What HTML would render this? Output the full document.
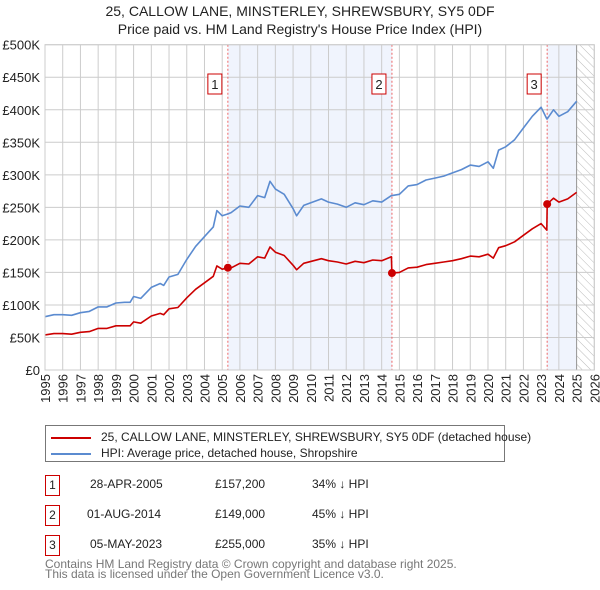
<!DOCTYPE html>
<html><head><meta charset="utf-8">
<style>
body{margin:0;background:#fff;font-family:"Liberation Sans","DejaVu Sans",sans-serif;}
#wrap{position:relative;width:600px;height:590px;overflow:hidden;}
svg{position:absolute;left:0;top:0;}
.c{white-space:nowrap;}
</style></head>
<body><div id="wrap">
<svg id="chart" width="600" height="590" font-family="Liberation Sans, DejaVu Sans, sans-serif"></svg>
</div>
<script>
const years = [1995,1995.5,1996,1996.5,1997,1997.5,1998,1998.5,1999,1999.5,1999.8,2000,2000.4,2001,2001.5,2001.7,2002,2002.5,2003,2003.5,2004,2004.5,2004.7,2005,2005.33,2005.5,2006,2006.5,2007,2007.4,2007.7,2008,2008.5,2009,2009.2,2009.6,2010.6,2011,2011.5,2012,2012.5,2013,2013.5,2014,2014.55,2014.58,2015,2015.5,2016,2016.5,2017,2017.5,2018,2018.5,2019,2019.5,2020,2020.3,2020.6,2021,2021.5,2022,2022.5,2023,2023.32,2023.34,2023.7,2024,2024.5,2025];
const hpiValues = [82,85,85,84,88,90,97,97,103,104,104,113,110,127,133,130,143,147,170,190,205,220,245,237,240,242,252,250,268,265,290,278,270,248,237,253,263,258,255,250,257,254,260,258,268,268,270,283,285,292,295,298,303,308,315,313,320,310,338,343,354,372,390,404,386,386,400,390,397,413];
const propertyValues = [54,56,56,55,58,59,64,64,68,68,68,74,72,83,87,85,94,96,111,124,134,144,160,155,157,157,164,163,174,172,189,181,176,161,154,164,171,168,166,163,167,165,169,168,174,149,150,157,158,162,164,166,168,171,175,174,178,172,188,191,197,207,217,225,215,255,264,258,263,273];
const saleYears = [2005.32,2014.58,2023.34];
const saleValues = [157.2,149,255];
const saleLabels = ["1","2","3"];
const yTicks = [0,50,100,150,200,250,300,350,400,450,500];
const yTickLabels = ["£0","£50K","£100K","£150K","£200K","£250K","£300K","£350K","£400K","£450K","£500K"];
const xTicks = [1995,1996,1997,1998,1999,2000,2001,2002,2003,2004,2005,2006,2007,2008,2009,2010,2011,2012,2013,2014,2015,2016,2017,2018,2019,2020,2021,2022,2023,2024,2025,2026];

const L=45,R=594.3,T=44.7,B=370;
const xs=y=>L+(y-1995)/(2026-1995)*(R-L);
const ys=v=>B-v/500*(B-T);
const NS="http://www.w3.org/2000/svg";
const svg=document.getElementById('chart');
function mk(tag,attrs,parent){const e=document.createElementNS(NS,tag);for(const k in attrs)e.setAttribute(k,attrs[k]);(parent||svg).appendChild(e);return e;}

const defs=mk('defs',{});
const pat=mk('pattern',{id:'hatch',width:6,height:6,patternUnits:'userSpaceOnUse',patternTransform:'rotate(-45)'},defs);
mk('line',{x1:0,y1:0,x2:0,y2:6,stroke:'#bbb','stroke-width':1},pat);

let s=mk('rect',{x:xs(saleYears[0]),y:T,width:xs(saleYears[1])-xs(saleYears[0]),height:B-T,fill:'#f0f4fd'});


s=mk('rect',{x:xs(saleYears[2]),y:T,width:xs(2025)-xs(saleYears[2]),height:B-T,fill:'#f0f4fd'});


s=mk('rect',{x:xs(2025),y:T,width:R-xs(2025),height:B-T,fill:'url(#hatch)'});



yTicks.forEach((v,i)=>{
  const g=mk('line',{x1:L,x2:R,y1:ys(v),y2:ys(v),stroke:'#ccc','stroke-width':1});
  
  
  const t=mk('text',{x:L-5,y:ys(v)+5,'text-anchor':'end','font-size':13,fill:'#222'});
  t.textContent=yTickLabels[i];
  
  
});
xTicks.forEach(y=>{
  const g=mk('line',{x1:xs(y),x2:xs(y),y1:T,y2:B,stroke:'#ccc','stroke-width':1});
  
  
  const t=mk('text',{x:0,y:0,'text-anchor':'end','font-size':13,fill:'#222',transform:`translate(${xs(y)+5},${B+4}) rotate(-90)`});
  t.textContent=y;
  
  
});
const ln=mk('line',{x1:xs(2025),x2:xs(2025),y1:T,y2:B,stroke:'#999','stroke-width':1});



saleYears.forEach((y,i)=>{
  const l=mk('line',{x1:xs(y),x2:xs(y),y1:T,y2:B,stroke:'#e66','stroke-width':1,'stroke-dasharray':'2,2'});
  
  
  const bx=mk('rect',{x:xs(y)-20,y:74,width:14,height:20,fill:'#fff',stroke:'#c00','stroke-width':1});
  
  
  const t=mk('text',{x:xs(y)-13,y:89,'text-anchor':'middle','font-size':13,fill:'#222'});
  t.textContent=saleLabels[i];
  
  
});

const pts=(vals)=>years.map((y,i)=>xs(y).toFixed(1)+','+ys(vals[i]).toFixed(1)).join(' ');
const hp=mk('polyline',{points:pts(hpiValues),fill:'none',stroke:'#5b8bd0','stroke-width':1.6,'stroke-linejoin':'round'});


const pp=mk('polyline',{points:pts(propertyValues),fill:'none',stroke:'#cc0000','stroke-width':1.6,'stroke-linejoin':'round'});


saleYears.forEach((y,i)=>{
  const c=mk('circle',{cx:xs(y),cy:ys(saleValues[i]),r:4,fill:'#cc0000'});
  
  
});
const fr=mk('rect',{x:L,y:T,width:R-L,height:B-T,fill:'none',stroke:'#ccc'});


</script>
<div style="position:absolute;left:0;top:2px;width:600px;text-align:center;font-size:14px;line-height:18px;color:#222;">25, CALLOW LANE, MINSTERLEY, SHREWSBURY, SY5 0DF<br>Price paid vs. HM Land Registry's House Price Index (HPI)</div>
<div style="position:absolute;left:45px;top:425px;width:458px;height:35px;border:1px solid #777;font-size:12px;color:#222;">
  <div class="c" style="position:absolute;left:5px;top:4px;"><span style="display:inline-block;width:40px;height:2px;background:#cc0000;vertical-align:middle;margin-right:10px;"></span>25, CALLOW LANE, MINSTERLEY, SHREWSBURY, SY5 0DF (detached house)</div>
  <div class="c" style="position:absolute;left:5px;top:20px;"><span style="display:inline-block;width:40px;height:2px;background:#5b8bd0;vertical-align:middle;margin-right:10px;"></span>HPI: Average price, detached house, Shropshire</div>
</div>
<div style="position:absolute;left:0;top:0;font-size:12px;color:#222;">
  <div>
    <div class="c" style="position:absolute;left:45px;top:475px;width:13px;height:19px;border:1px solid #c00;text-align:center;line-height:19px;">1</div>
    <div class="c" style="position:absolute;left:90px;top:477px;">28-APR-2005</div>
    <div class="c" style="position:absolute;left:215px;top:477px;">£157,200</div>
    <div class="c" style="position:absolute;left:312px;top:477px;">34% ↓ HPI</div>
  </div>
  <div>
    <div class="c" style="position:absolute;left:45px;top:505px;width:13px;height:19px;border:1px solid #c00;text-align:center;line-height:19px;">2</div>
    <div class="c" style="position:absolute;left:87px;top:507px;">01-AUG-2014</div>
    <div class="c" style="position:absolute;left:215px;top:507px;">£149,000</div>
    <div class="c" style="position:absolute;left:312px;top:507px;">45% ↓ HPI</div>
  </div>
  <div>
    <div class="c" style="position:absolute;left:45px;top:535px;width:13px;height:19px;border:1px solid #c00;text-align:center;line-height:19px;">3</div>
    <div class="c" style="position:absolute;left:90px;top:537px;">05-MAY-2023</div>
    <div class="c" style="position:absolute;left:215px;top:537px;">£255,000</div>
    <div class="c" style="position:absolute;left:312px;top:537px;">35% ↓ HPI</div>
  </div>
</div>
<div class="c" style="position:absolute;left:45px;top:559px;font-size:12px;line-height:10px;color:#777;">Contains HM Land Registry data © Crown copyright and database right 2025.<br>This data is licensed under the Open Government Licence v3.0.</div>
</body></html>
